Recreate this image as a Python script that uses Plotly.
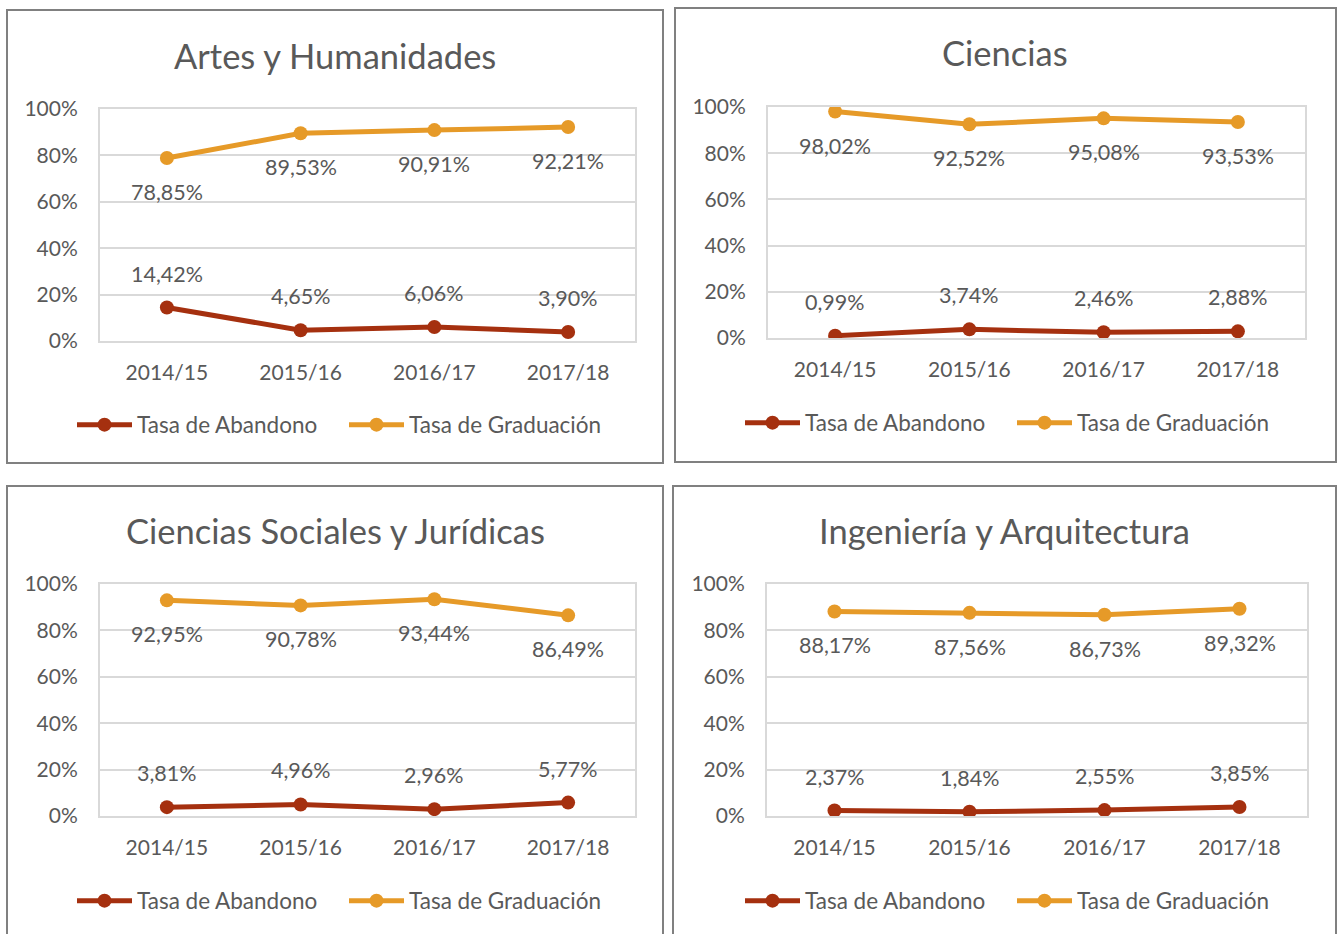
import plotly.graph_objects as go

categories = ["2014/15", "2015/16", "2016/17", "2017/18"]
titles = ["Artes y Humanidades", "Ciencias", "Ciencias Sociales y Jurídicas", "Ingeniería y Arquitectura"]
abandono_artes = [14.42, 4.65, 6.06, 3.90]
graduacion_artes = [78.85, 89.53, 90.91, 92.21]
abandono_ciencias = [0.99, 3.74, 2.46, 2.88]
graduacion_ciencias = [98.02, 92.52, 95.08, 93.53]
abandono_sociales = [3.81, 4.96, 2.96, 5.77]
graduacion_sociales = [92.95, 90.78, 93.44, 86.49]
abandono_ingenieria = [2.37, 1.84, 2.55, 3.85]
graduacion_ingenieria = [88.17, 87.56, 86.73, 89.32]
y_ticks = [0, 20, 40, 60, 80, 100]
y_tick_labels = ["0%", "20%", "40%", "60%", "80%", "100%"]
series_names = ["Tasa de Abandono", "Tasa de Graduación"]

abandono = [abandono_artes, abandono_ciencias, abandono_sociales, abandono_ingenieria]
graduacion = [graduacion_artes, graduacion_ciencias, graduacion_sociales, graduacion_ingenieria]

W, H = 1341, 934
FONT = "Lato"
TXT = "#595959"
RED = "#A5300F"
ORANGE = "#E69A28"
GRID = "#D9D9D9"

# pixel geometry for each panel: plot area, outer box, title, legend
plot_px = [((100, 635), (109, 341)), ((768, 1305), (107, 338)),
           ((100, 635), (584, 816)), ((767, 1307), (584, 816))]
box_px = [((7, 663), (10, 463)), ((675, 1336), (8, 462)),
          ((7, 663), (486, 945)), ((673, 1336), (486, 945))]
title_px = [(335, 55), (1005, 53), (335, 530), (1004, 530)]
legend_px = [(72, 425), (740, 423), (72, 901), (740, 901)]


def px(x):
    return x / W


def py(y):
    return 1 - y / H


fig = go.Figure()
layout = dict(width=W, height=H, margin=dict(l=0, r=0, t=0, b=0, autoexpand=False), autosize=False,
              plot_bgcolor="white", paper_bgcolor="white", showlegend=True,
              font=dict(family=FONT, color=TXT, size=21))
annotations = []
shapes = []

for i in range(4):
    sfx = "" if i == 0 else str(i + 1)
    xa, ya = "x" + sfx, "y" + sfx
    leg = "legend" if i == 0 else "legend" + str(i + 1)
    for name, vals, col in [(series_names[0], abandono[i], RED), (series_names[1], graduacion[i], ORANGE)]:
        fig.add_trace(go.Scatter(x=categories, y=vals, name=name, mode="lines+markers",
                                 line=dict(color=col, width=5), marker=dict(color=col, size=14),
                                 xaxis=xa, yaxis=ya, legend=leg, hoverinfo="skip"))
        shift = 34 if col == RED else -34
        for c, v in zip(categories, vals):
            annotations.append(dict(x=c, y=v, xref=xa, yref=ya, showarrow=False, yshift=shift,
                                    text=f"{v:.2f}".replace(".", ",") + "%",
                                    font=dict(family=FONT, size=21.5, color=TXT)))
    (x0, x1), (y0, y1) = plot_px[i]
    layout["xaxis" + sfx] = dict(domain=[px(x0), px(x1)], anchor=ya, type="category",
                                 range=[-0.5, 3.5], showgrid=False, zeroline=False,
                                 showline=True, linecolor=GRID, linewidth=2, mirror=True,
                                 ticks="outside", ticklen=12, tickcolor="rgba(0,0,0,0)",
                                 tickfont=dict(family=FONT, size=21, color=TXT), fixedrange=True)
    layout["yaxis" + sfx] = dict(domain=[py(y1), py(y0)], anchor=xa, range=[0, 100],
                                 tickmode="array", tickvals=y_ticks, ticktext=y_tick_labels,
                                 showgrid=True, gridcolor=GRID,
                                 gridwidth=2, zeroline=False, showline=True, linecolor=GRID,
                                 linewidth=2, mirror=True, ticks="outside", ticklen=16,
                                 tickcolor="rgba(0,0,0,0)",
                                 tickfont=dict(family=FONT, size=21, color=TXT), fixedrange=True)
    (bx0, bx1), (by0, by1) = box_px[i]
    shapes.append(dict(type="rect", xref="paper", yref="paper", x0=px(bx0), x1=px(bx1),
                       y0=py(by1), y1=py(by0), line=dict(color="#808080", width=2),
                       fillcolor="rgba(0,0,0,0)", layer="below"))
    tx, ty = title_px[i]
    annotations.append(dict(x=px(tx), y=py(ty), xref="paper", yref="paper", showarrow=False,
                            text=titles[i], xanchor="center", yanchor="middle",
                            font=dict(family=FONT, size=34.5, color=TXT)))
    lx, ly = legend_px[i]
    layout[leg] = dict(x=px(lx), y=py(ly), xref="paper", yref="paper", xanchor="left",
                       yanchor="middle", orientation="h", itemwidth=55, bgcolor="rgba(0,0,0,0)",
                       font=dict(family=FONT, size=22.5, color=TXT), entrywidth=202,
                       entrywidthmode="pixels", itemclick=False, itemdoubleclick=False)

layout["annotations"] = annotations
layout["shapes"] = shapes
fig.update_layout(**layout)
fig.write_html("out.html", config={"displayModeBar": False},
               post_script="document.body.style.margin='0';document.body.style.overflow='hidden';")
